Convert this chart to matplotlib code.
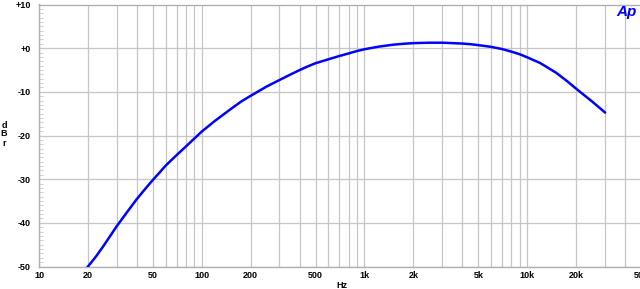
import numpy as np
import matplotlib
matplotlib.use("Agg")
import matplotlib.pyplot as plt
from matplotlib.ticker import FixedLocator, MultipleLocator, NullFormatter

# frequency response (Hz, dBr)
freq_hz = [20, 22.5, 25, 27.5, 30, 35, 40, 45, 50, 55, 60, 70, 80, 90, 100,
           120, 150, 175, 200, 250, 300, 350, 400, 450, 500, 600, 700, 800,
           900, 1000, 1200, 1500, 1800, 2000, 2500, 3000, 3500, 4000, 4500,
           5000, 6000, 7000, 8000, 9000, 10000, 12000, 15000, 17500, 20000,
           25000, 30000]
level_db = [-50.0, -47.6, -45.2, -42.9, -40.8, -37.4, -34.5, -32.2, -30.2, -28.5,
            -26.9, -24.5, -22.5, -20.7, -19.1, -16.7, -14.0, -12.2, -10.9, -8.8,
            -7.3, -6.05, -5.0, -4.15, -3.45, -2.55, -1.8, -1.2, -0.65, -0.25, 0.3,
            0.8, 1.05, 1.15, 1.25, 1.25, 1.15, 1.05, 0.9, 0.7, 0.3, -0.2, -0.8,
            -1.4, -2.1, -3.4, -5.6, -7.5, -9.3, -12.2, -14.7]

x_ticks = [10, 20, 50, 100, 200, 500, 1000, 2000, 5000, 10000, 20000, 50000]
x_tick_labels = ["10", "20", "50", "100", "200", "500", "1k", "2k", "5k", "10k", "20k", "50k"]
y_ticks = [10, 0, -10, -20, -30, -40, -50]
y_tick_labels = ["+10", "+0", "-10", "-20", "-30", "-40", "-50"]

grid_freqs = [f * m for m in (10, 100, 1000, 10000) for f in range(1, 10)] + [50000]

plt.rcParams["font.family"] = ["Liberation Sans", "DejaVu Sans"]

fig = plt.figure(figsize=(6.4, 2.89), dpi=100)
ax = fig.add_axes([39 / 640, 1 - 266.5 / 289, (641 - 39) / 640, (266.5 - 4.5) / 289])

ax.set_xscale("log")
ax.set_xlim(10, 50000)
ax.set_ylim(-50, 10)

grid_col = "#c6c6c6"
for f in grid_freqs:
    ax.axvline(f, color=grid_col, lw=0.9, zorder=0)
for y in y_ticks:
    ax.axhline(y, color=grid_col, lw=0.9, zorder=0)

ax.plot(freq_hz, level_db, color="#0000ff", lw=1.8, zorder=3,
        solid_joinstyle="round")

ax.xaxis.set_major_locator(FixedLocator(x_ticks))
ax.set_xticklabels(x_tick_labels)
ax.xaxis.set_minor_formatter(NullFormatter())
ax.tick_params(axis="x", which="both", length=0, pad=3, labelsize=6.5)

ax.set_yticks(y_ticks)
ax.set_yticklabels(y_tick_labels)
ax.yaxis.set_minor_locator(MultipleLocator(1))
ax.tick_params(axis="y", which="major", length=0, pad=6, labelsize=6.5)
ax.tick_params(axis="y", which="minor", direction="in", length=3, width=0.6,
               color=grid_col)

for lab in ax.get_xticklabels() + ax.get_yticklabels():
    lab.set_fontweight("bold")

for side in ("left", "bottom", "top"):
    ax.spines[side].set_color("#b0b0b0")
    ax.spines[side].set_linewidth(1.0)
ax.spines["right"].set_visible(False)

fig.text(342 / 640, 1 - 285 / 289, "Hz", fontsize=6.5, fontweight="bold",
         ha="center", va="center")
fig.text(4 / 640, 1 - 134 / 289, "d\nB\nr", fontsize=6.5, fontweight="bold",
         ha="center", va="center", linespacing=1.0)
fig.text(626 / 640, 1 - 12 / 289, "Ap", fontsize=11, fontweight="heavy",
         style="italic", color="#0000ff", ha="center", va="center")

fig.savefig("out.png", dpi=100)
